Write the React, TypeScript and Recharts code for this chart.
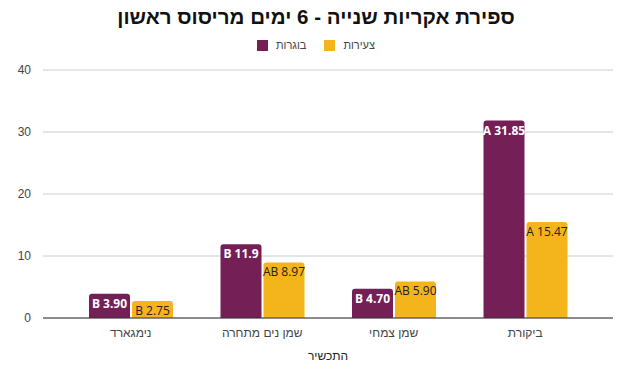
import { BarChart, Bar, XAxis, YAxis, CartesianGrid, LabelList } from "recharts";

const title = "ספירת אקריות שנייה - 6 ימים מריסוס ראשון";
const categories = ["נימגארד", "שמן נים מתחרה", "שמן צמחי", "ביקורת"];
const seriesNames = ["בוגרות", "צעירות"];
const seriesColors = ["#741f56", "#f4b41b"];
const adults = [3.9, 11.9, 4.7, 31.85];
const young = [2.75, 8.97, 5.9, 15.47];
const adultLabels = ["B 3.90", "B 11.9", "B 4.70", "A 31.85"];
const youngLabels = ["B 2.75", "AB 8.97", "AB 5.90", "A 15.47"];
const yTicks = [0, 10, 20, 30, 40];
const xTitle = "התכשיר";

const data = categories.map((name, i) => ({
  name,
  adults: adults[i],
  young: young[i],
  adultLabel: adultLabels[i],
  youngLabel: youngLabels[i],
}));

const font = "'Liberation Sans', Arial, sans-serif";

// plain one-line label inside the top of the bar (no wrapping)
const barLabel = (color: string, weight: string) => (props: any) => {
  const { x, y, width, value } = props;
  return (
    <text
      x={Number(x) + Number(width) / 2}
      y={Number(y) + 14}
      textAnchor="middle"
      fill={color}
      fontSize={12}
      fontWeight={weight}
      fontFamily="'Open Sans', sans-serif"
    >
      {value}
    </text>
  );
};

export default function App() {
  return (
    <div style={{ position: "absolute", left: 0, top: 0, width: 632, height: 370, background: "#fff", fontFamily: font }}>
      <div
        style={{
          position: "absolute",
          top: 5,
          left: 0,
          width: 632,
          textAlign: "center",
          fontSize: 20.5,
          fontWeight: "bold",
          color: "#111",
          direction: "rtl",
        }}
      >
        {title}
      </div>
      <div
        style={{
          position: "absolute",
          top: 39,
          left: 0,
          width: 632,
          display: "flex",
          justifyContent: "center",
          alignItems: "center",
          fontSize: 11,
          color: "#444",
        }}
      >
        {seriesNames.map((n, i) => (
          <div key={n} style={{ display: "flex", alignItems: "center", marginRight: i === 0 ? 18 : 0 }}>
            <span style={{ width: 11, height: 11, background: seriesColors[i], display: "inline-block", marginRight: 8 }} />
            <span>{n}</span>
          </div>
        ))}
      </div>
      <BarChart
        width={632}
        height={370}
        data={data}
        margin={{ top: 70, right: 19, bottom: 0, left: 0 }}
        barSize={41}
        barGap={2}
        style={{ position: "absolute", left: 0, top: 0 }}
      >
        <CartesianGrid vertical={false} stroke="#cccccc" />
        <XAxis
          dataKey="name"
          padding={{ left: 22, right: 22 }}
          tickLine={false}
          axisLine={{ stroke: "#333" }}
          tick={{ fill: "#444", fontSize: 12, fontFamily: font }}
          height={52}
          tickMargin={4}
          label={{ value: xTitle, position: "insideBottom", offset: 10, fill: "#222", fontSize: 12, fontFamily: font }}
        />
        <YAxis
          domain={[0, 40]}
          ticks={yTicks}
          width={43}
          axisLine={false}
          tickLine={false}
          tickMargin={6}
          tick={{ fill: "#444", fontSize: 12, fontFamily: font }}
        />
        <Bar dataKey="adults" fill={seriesColors[0]} radius={[3, 3, 0, 0]} isAnimationActive={false}>
          <LabelList dataKey="adultLabel" content={barLabel("#fff", "bold")} />
        </Bar>
        <Bar dataKey="young" fill={seriesColors[1]} radius={[3, 3, 0, 0]} isAnimationActive={false}>
          <LabelList dataKey="youngLabel" content={barLabel("#222", "normal")} />
        </Bar>
      </BarChart>
    </div>
  );
}
